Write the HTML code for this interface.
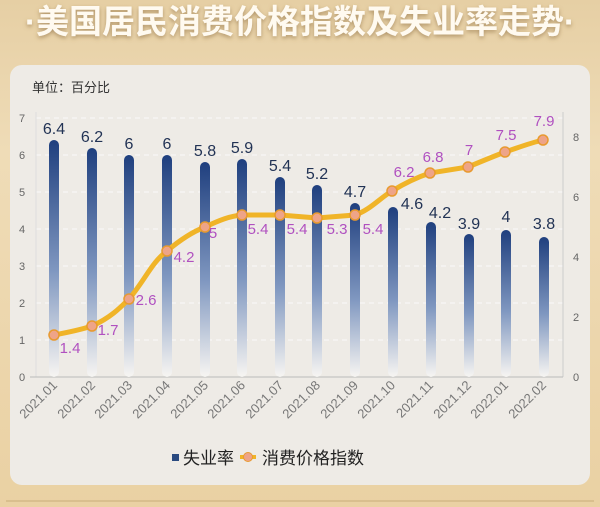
<!DOCTYPE html>
<html><head><meta charset="utf-8"><style>
body{margin:0;width:600px;height:507px;overflow:hidden;background:#ecd5aa;font-family:"Liberation Sans","Noto Sans CJK SC",sans-serif;}
</style></head><body>
<svg width="600" height="507" xmlns="http://www.w3.org/2000/svg" style="position:absolute;left:0;top:0">
<defs>
<linearGradient id="bg" x1="0" y1="0" x2="0" y2="1"><stop offset="0" stop-color="#e6cfa4"/><stop offset="0.3" stop-color="#efdcb7"/><stop offset="1" stop-color="#ead1a3"/></linearGradient>
<linearGradient id="bar" x1="0" y1="0" x2="0" y2="1"><stop offset="0" stop-color="#1f3f7e"/><stop offset="0.55" stop-color="#7f97c0"/><stop offset="1" stop-color="#f7f5f2"/></linearGradient>
<filter id="sh"><feDropShadow dx="0" dy="2" stdDeviation="2" flood-color="#8a6a3a" flood-opacity="0.6"/></filter>
</defs>
<rect width="600" height="507" fill="url(#bg)"/>
<text x="300" y="33" text-anchor="middle" font-size="33" font-weight="bold" fill="#fffaf0" filter="url(#sh)" font-family="Liberation Sans,Noto Sans CJK SC,sans-serif">·美国居民消费价格指数及失业率走势·</text>
<rect x="10" y="65" width="580" height="420" rx="12" fill="#eeebe6"/>
<line x1="6" y1="501" x2="594" y2="501" stroke="#d9bf8e" stroke-width="2"/>
<text x="32" y="92" font-size="13" fill="#333">单位：百分比</text>
<g stroke="#fafafa" stroke-width="1" stroke-dasharray="5,4">
<line x1="36" x2="563" y1="118" y2="118"/><line x1="36" x2="563" y1="155" y2="155"/><line x1="36" x2="563" y1="192" y2="192"/><line x1="36" x2="563" y1="229" y2="229"/><line x1="36" x2="563" y1="266" y2="266"/><line x1="36" x2="563" y1="303" y2="303"/><line x1="36" x2="563" y1="340" y2="340"/>
</g>
<line x1="36" y1="112" x2="36" y2="377" stroke="#ddd"/>
<line x1="563" y1="112" x2="563" y2="377" stroke="#ccc"/>
<line x1="30" y1="377" x2="563" y2="377" stroke="#bbb"/>
<g font-size="11" fill="#666" text-anchor="middle">
<text x="22" y="381">0</text><text x="22" y="344">1</text><text x="22" y="307">2</text><text x="22" y="270">3</text><text x="22" y="233">4</text><text x="22" y="196">5</text><text x="22" y="159">6</text><text x="22" y="122">7</text>
<text x="576" y="381">0</text><text x="576" y="321">2</text><text x="576" y="261">4</text><text x="576" y="201">6</text><text x="576" y="141">8</text>
</g>
<g fill="url(#bar)">
<rect x="49" y="140" width="10" height="237" rx="5"/>
<rect x="87" y="148" width="10" height="229" rx="5"/>
<rect x="124" y="155" width="10" height="222" rx="5"/>
<rect x="162" y="155" width="10" height="222" rx="5"/>
<rect x="200" y="162" width="10" height="215" rx="5"/>
<rect x="237" y="159" width="10" height="218" rx="5"/>
<rect x="275" y="177" width="10" height="200" rx="5"/>
<rect x="312" y="185" width="10" height="192" rx="5"/>
<rect x="350" y="203" width="10" height="174" rx="5"/>
<rect x="388" y="207" width="10" height="170" rx="5"/>
<rect x="426" y="222" width="10" height="155" rx="5"/>
<rect x="464" y="234" width="10" height="143" rx="5"/>
<rect x="501" y="230" width="10" height="147" rx="5"/>
<rect x="539" y="237" width="10" height="140" rx="5"/>
</g>
<g font-size="16" fill="#223355" text-anchor="middle">
<text x="54" y="134">6.4</text><text x="92" y="142">6.2</text><text x="129" y="149">6</text><text x="167" y="149">6</text><text x="205" y="156">5.8</text><text x="242" y="153">5.9</text><text x="280" y="171">5.4</text><text x="317" y="179">5.2</text><text x="355" y="197">4.7</text><text x="412" y="209">4.6</text><text x="440" y="218">4.2</text><text x="469" y="229">3.9</text><text x="506" y="222">4</text><text x="544" y="229">3.8</text>
</g>
<path d="M54,335 C70,332 80,330 92,326 C110,318 120,308 129,299 C145,280 152,262 167,251 C180,240 192,232 205,227 C220,220 230,216 242,215 L280,215 L317,218 L355,215 C370,210 380,198 392,191 C405,183 418,177 430,173 L468,167 C480,162 492,157 505,152 C520,147 530,143 543,140" fill="none" stroke="#f0b428" stroke-width="5" stroke-linecap="round"/>
<g fill="#eea488" stroke="#e89a30" stroke-width="1.5">
<circle cx="54" cy="335" r="5"/><circle cx="92" cy="326" r="5"/><circle cx="129" cy="299" r="5"/><circle cx="167" cy="251" r="5"/><circle cx="205" cy="227" r="5"/><circle cx="242" cy="215" r="5"/><circle cx="280" cy="215" r="5"/><circle cx="317" cy="218" r="5"/><circle cx="355" cy="215" r="5"/><circle cx="392" cy="191" r="5"/><circle cx="430" cy="173" r="5"/><circle cx="468" cy="167" r="5"/><circle cx="505" cy="152" r="5"/><circle cx="543" cy="140" r="5"/>
</g>
<g font-size="15" fill="#b050c0" text-anchor="middle">
<text x="70" y="353">1.4</text><text x="108" y="335">1.7</text><text x="146" y="305">2.6</text><text x="184" y="262">4.2</text><text x="213" y="238">5</text><text x="258" y="234">5.4</text><text x="297" y="234">5.4</text><text x="337" y="234">5.3</text><text x="373" y="234">5.4</text><text x="404" y="177">6.2</text><text x="433" y="162">6.8</text><text x="469" y="155">7</text><text x="506" y="140">7.5</text><text x="544" y="126">7.9</text>
</g>
<g font-size="13" fill="#777" text-anchor="end">
<text transform="translate(58,386) rotate(-45)">2021.01</text>
<text transform="translate(96,386) rotate(-45)">2021.02</text>
<text transform="translate(133,386) rotate(-45)">2021.03</text>
<text transform="translate(171,386) rotate(-45)">2021.04</text>
<text transform="translate(209,386) rotate(-45)">2021.05</text>
<text transform="translate(246,386) rotate(-45)">2021.06</text>
<text transform="translate(284,386) rotate(-45)">2021.07</text>
<text transform="translate(321,386) rotate(-45)">2021.08</text>
<text transform="translate(359,386) rotate(-45)">2021.09</text>
<text transform="translate(396,386) rotate(-45)">2021.10</text>
<text transform="translate(434,386) rotate(-45)">2021.11</text>
<text transform="translate(472,386) rotate(-45)">2021.12</text>
<text transform="translate(509,386) rotate(-45)">2022.01</text>
<text transform="translate(547,386) rotate(-45)">2022.02</text>
</g>
<rect x="172" y="454" width="7" height="7" fill="#2a4a80"/>
<text x="183" y="464" font-size="17" fill="#222">失业率</text>
<line x1="240" y1="457" x2="256" y2="457" stroke="#f0b428" stroke-width="4"/>
<circle cx="248" cy="457" r="4.5" fill="#eea488" stroke="#e89a30"/>
<text x="262" y="464" font-size="17" fill="#222">消费价格指数</text>
</svg>
</body></html>
